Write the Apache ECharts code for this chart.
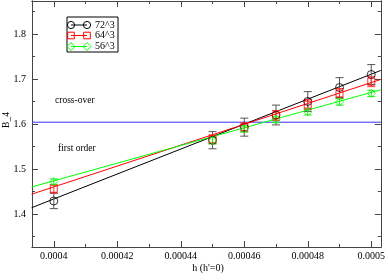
<!DOCTYPE html>
<html>
<head>
<meta charset="utf-8">
<script src="https://cdn.jsdelivr.net/npm/echarts@6/dist/echarts.min.js"></script>
<style>
html,body{margin:0;padding:0;background:#fff;}
#c{width:388px;height:280px;}
</style>
</head>
<body>
<div id="c"></div>
<script>
// ---- data ----
const hValues = [0.0004, 0.00045, 0.00046, 0.00047, 0.00048, 0.00049, 0.0005];
const b72 = [1.429, 1.564, 1.593, 1.620, 1.650, 1.681, 1.710];
const err72 = [0.017, 0.019, 0.020, 0.022, 0.022, 0.022, 0.022];
const b64 = [1.456, 1.566, 1.593, 1.619, 1.643, 1.668, 1.694];
const err64 = [0.009, 0.010, 0.010, 0.011, 0.011, 0.011, 0.011];
const b56 = [1.472, 1.563, 1.589, 1.610, 1.627, 1.649, 1.668];
const err56 = [0.006, 0.007, 0.007, 0.007, 0.007, 0.007, 0.007];
const fitH = [0.000393, 0.000503];
const fit72 = [1.414, 1.719];
const fit64 = [1.444, 1.699];
const fit56 = [1.460, 1.676];
const crossY = 1.604;
const seriesNames = ['72^3', '64^3', '56^3'];
const xMajor = [0.0004, 0.00042, 0.00044, 0.00046, 0.00048, 0.0005];
const xMajorLabels = ['0.0004', '0.00042', '0.00044', '0.00046', '0.00048', '0.0005'];
const xMinor = [0.00041, 0.00043, 0.00045, 0.00047, 0.00049];
const yMajor = [1.4, 1.5, 1.6, 1.7, 1.8];
const yMajorLabels = ['1.4', '1.5', '1.6', '1.7', '1.8'];
const yMinor = [1.35, 1.45, 1.55, 1.65, 1.75, 1.85];
const xMin = 0.00039313, xMax = 0.00050303;
const yMin = 1.3267, yMax = 1.8733;

const FONT = 'Liberation Serif';
const AX = '#444';
const colors = ['#000000', '#ff0000', '#00ff00'];
const errColors = ['#555555', '#ff3030', '#20ee20'];

function pts(vals){ return hValues.map((h,i)=>[h, vals[i]]); }
function errData(vals, errs){ return hValues.map((h,i)=>[h, vals[i]-errs[i], vals[i]+errs[i]]); }

function xAx(pos, vals, len, labels){
  return {
    type:'value', position:pos, min:xMin, max:xMax, splitLine:{show:false},
    axisLine:{show:true, onZero:false, lineStyle:{color:AX, width:1}},
    axisTick:{show:true, inside:true, length:len, customValues:vals, lineStyle:{color:AX}},
    axisLabel: labels ? {show:true, customValues:vals, margin:4, color:'#000', fontFamily:FONT, fontSize:10,
      formatter:(v)=>{const i=xMajor.findIndex(x=>Math.abs(x-v)<1e-9); return i>=0?xMajorLabels[i]:'';}} : {show:false}
  };
}
function yAx(pos, vals, len, labels){
  return {
    type:'value', position:pos, min:yMin, max:yMax, splitLine:{show:false},
    axisLine:{show:true, onZero:false, lineStyle:{color:AX, width:1}},
    axisTick:{show:true, inside:true, length:len, customValues:vals, lineStyle:{color:AX}},
    axisLabel: labels ? {show:true, customValues:vals, margin:6, color:'#000', fontFamily:FONT, fontSize:10,
      formatter:(v)=>{const i=yMajor.findIndex(x=>Math.abs(x-v)<1e-9); return i>=0?yMajorLabels[i]:'';}} : {show:false}
  };
}

const errSeries = (vals, errs, ci) => ({
  type:'custom', xAxisIndex:0, yAxisIndex:0, z:3,
  data: errData(vals, errs),
  renderItem: (params, api) => {
    const x = api.value(0);
    const lo = api.coord([x, api.value(1)]);
    const hi = api.coord([x, api.value(2)]);
    const w = 4;
    const st = {stroke: errColors[ci], lineWidth: 1};
    return {type:'group', children:[
      {type:'line', shape:{x1:lo[0], y1:lo[1], x2:hi[0], y2:hi[1]}, style:st},
      {type:'line', shape:{x1:lo[0]-w, y1:lo[1], x2:lo[0]+w, y2:lo[1]}, style:st},
      {type:'line', shape:{x1:hi[0]-w, y1:hi[1], x2:hi[0]+w, y2:hi[1]}, style:st}
    ]};
  }
});

const chart = echarts.init(document.getElementById('c'), null, {renderer:'canvas'});
const symbols = ['circle', 'rect', 'diamond'];
const symSizes = [8, 7, 8];
const vals = [b72, b64, b56];
const errs = [err72, err64, err56];
const fits = [fit72, fit64, fit56];

const series = [];
series.push({type:'line', data:[[xMin, crossY],[xMax, crossY]], symbol:'none', silent:true,
  lineStyle:{color:'#3333ff', width:1}, z:1});
for (let k=0;k<3;k++){
  series.push({type:'line', name:seriesNames[k], data:fitH.map((h,i)=>[h, fits[k][i]]), symbol:'none',
    lineStyle:{color:colors[k], width:1}, z:2});
}
for (let k=0;k<3;k++){
  series.push(errSeries(vals[k], errs[k], k));
}
for (let k=0;k<3;k++){
  series.push({type:'scatter', data:pts(vals[k]), symbol:symbols[k], symbolSize:symSizes[k],
    itemStyle:{color:'rgba(0,0,0,0)', borderColor:colors[k], borderWidth:1}, z:4});
}

// legend drawn with graphic elements
const legX = 67, legY = 17, legW = 51, legH = 35;
const legendGraphics = [{type:'rect', shape:{x:legX, y:legY, width:legW, height:legH},
  style:{fill:'#fff', stroke:'#000', lineWidth:1}, z:10}];
const rowY = [25, 35.5, 46.5];
for (let k=0;k<3;k++){
  const y = rowY[k];
  legendGraphics.push({type:'line', shape:{x1:71, y1:y, x2:87, y2:y}, style:{stroke:colors[k], lineWidth:1}, z:11});
  [71, 87].forEach(cx=>{
    if (k===0) legendGraphics.push({type:'circle', shape:{cx:cx, cy:y, r:3.6}, style:{fill:'none', stroke:colors[k], lineWidth:1}, z:12});
    else if (k===1) legendGraphics.push({type:'rect', shape:{x:cx-3.3, y:y-3.3, width:6.6, height:6.6}, style:{fill:'none', stroke:colors[k], lineWidth:1}, z:12});
    else legendGraphics.push({type:'polygon', shape:{points:[[cx,y-4],[cx+4,y],[cx,y+4],[cx-4,y]]}, style:{fill:'none', stroke:colors[k], lineWidth:1}, z:12});
  });
  legendGraphics.push({type:'text', x:95, y:y, style:{text:seriesNames[k], fontFamily:FONT, fontSize:10, fill:'#000', verticalAlign:'middle'}, z:12});
}
legendGraphics.push({type:'text', x:55, y:100, style:{text:'cross-over', fontFamily:FONT, fontSize:9.5, fill:'#000', verticalAlign:'middle'}, z:5});
legendGraphics.push({type:'text', x:58, y:148, style:{text:'first order', fontFamily:FONT, fontSize:9.5, fill:'#000', verticalAlign:'middle'}, z:5});
legendGraphics.push({type:'text', x:6, y:120, rotation:Math.PI/2, style:{text:'B_4', fontFamily:FONT, fontSize:9.5, fill:'#000', align:'center', verticalAlign:'middle'}, z:5});
legendGraphics.push({type:'text', x:208, y:268, style:{text:"h (h'=0)", fontFamily:FONT, fontSize:10, fill:'#000', align:'center', verticalAlign:'middle'}, z:5});

chart.setOption({
  animation:false,
  backgroundColor:'#fff',
  grid:{left:32, right:4, top:1, bottom:33, containLabel:false},
  xAxis:[xAx('bottom', xMajor, 6, true), xAx('bottom', xMinor, 3, false), xAx('top', xMajor, 6, false), xAx('top', xMinor, 3, false)],
  yAxis:[yAx('left', yMajor, 6, true), yAx('left', yMinor, 3, false), yAx('right', yMajor, 6, false), yAx('right', yMinor, 3, false)],
  series: series,
  graphic: legendGraphics
});
</script>
</body>
</html>
